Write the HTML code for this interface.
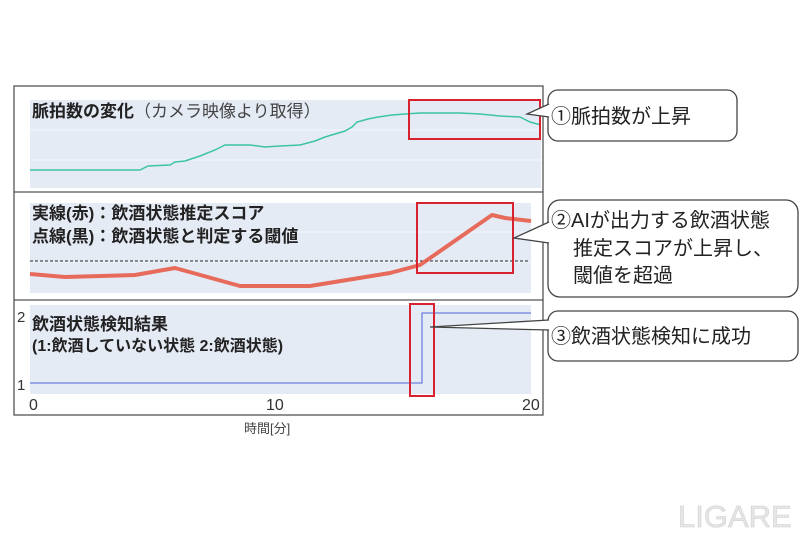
<!DOCTYPE html>
<html><head><meta charset="utf-8"><style>
body{margin:0;background:#fff;}
svg{display:block;font-family:"Liberation Sans","Noto Sans CJK JP",sans-serif;}
</style></head><body>
<svg width="800" height="533" viewBox="0 0 800 533" xmlns="http://www.w3.org/2000/svg">
<rect x="0" y="0" width="800" height="533" fill="#fff"/>
<rect x="30" y="100" width="511" height="88" fill="#e5ebf5"/>
<rect x="30" y="203" width="501" height="90" fill="#e5ebf5"/>
<rect x="30" y="305" width="501" height="89" fill="#e5ebf5"/>
<g stroke="#f3f6fb" stroke-width="1">
<line x1="30" y1="130" x2="541" y2="130"/><line x1="30" y1="160" x2="541" y2="160"/>
<line x1="30" y1="232" x2="531" y2="232"/><line x1="30" y1="262" x2="531" y2="262"/>
</g>
<rect x="14" y="86" width="529" height="329" fill="none" stroke="#555" stroke-width="1.3"/>
<line x1="14" y1="192" x2="543" y2="192" stroke="#555" stroke-width="1.3"/>
<line x1="14" y1="300" x2="543" y2="300" stroke="#555" stroke-width="1.3"/>
<polyline fill="none" stroke="#3cc4a4" stroke-width="1.5" points="30,170 140,170 148,166 170,165 175,162 185,161 200,156 215,150 225,145 250,145 265,147 280,146 300,145 315,141 325,137 345,131 352,127 357,122 368,119 378,117 392,115 405,114 420,113 460,113 480,114 500,116 520,117 530,122 541,125"/>
<text x="32" y="117" font-size="17" font-weight="bold" fill="#222">脈拍数の変化<tspan font-weight="normal" fill="#444">（カメラ映像より取得）</tspan></text>
<line x1="30" y1="261" x2="530" y2="261" stroke="#222" stroke-width="1" stroke-dasharray="3,2"/>
<polyline fill="none" stroke="#e8553f" stroke-opacity="0.85" stroke-width="4" stroke-linejoin="round" points="30,274 65,277 135,275 175,268 240,286 310,286 390,273 420,265 492,215 505,218 531,221"/>
<text x="32" y="219" font-size="17" font-weight="bold" fill="#222">実線(赤)：飲酒状態推定スコア</text>
<text x="32" y="242" font-size="17" font-weight="bold" fill="#222">点線(黒)：飲酒状態と判定する閾値</text>
<polyline fill="none" stroke="#6e7fe0" stroke-width="1.3" points="30,383 422,383 422,313 531,313"/>
<text x="32" y="330" font-size="17" font-weight="bold" fill="#222">飲酒状態検知結果</text>
<text x="32" y="351" font-size="16" font-weight="bold" fill="#222">(1:飲酒していない状態  2:飲酒状態)</text>
<text x="17" y="322" font-size="15" fill="#333">2</text>
<text x="17" y="390" font-size="15" fill="#333">1</text>
<text x="29" y="410" font-size="16" fill="#333">0</text>
<text x="266" y="410" font-size="16" fill="#333">10</text>
<text x="522" y="410" font-size="16" fill="#333">20</text>
<text x="244" y="433" font-size="13" fill="#444">時間[分]</text>
<g fill="none" stroke="#d8232f" stroke-width="2">
<rect x="409" y="100" width="131" height="39"/>
<rect x="417" y="203" width="96" height="70"/>
<rect x="410" y="304" width="24" height="92"/>
</g>
<g fill="#fff" stroke="#444" stroke-width="1.3">
<rect x="548" y="90" width="189" height="51" rx="10"/>
<rect x="548" y="200" width="250" height="97" rx="12"/>
<rect x="548" y="311" width="250" height="50" rx="10"/>
</g>
<g fill="#fff" stroke="#444" stroke-width="1.3">
<polyline points="549,104 527,114 549,117"/>
<polyline points="549,222 514,238 549,243"/>
<polyline points="549,320 430,327 549,330"/>
</g>
<g fill="#fff"><rect x="548" y="105" width="3" height="11"/><rect x="548" y="223" width="3" height="19"/><rect x="548" y="321" width="3" height="8"/></g>
<g font-size="20" fill="#222">
<text x="551" y="123">①脈拍数が上昇</text>
<text x="551" y="227">②AIが出力する飲酒状態</text>
<text x="573" y="255">推定スコアが上昇し、</text>
<text x="573" y="282">閾値を超過</text>
<text x="551" y="343">③飲酒状態検知に成功</text>
</g>
<text x="678" y="527" font-size="31" fill="#e6e6e6" stroke="#d0d0d0" stroke-width="0.6">LIGARE</text>
</svg>
</body></html>
